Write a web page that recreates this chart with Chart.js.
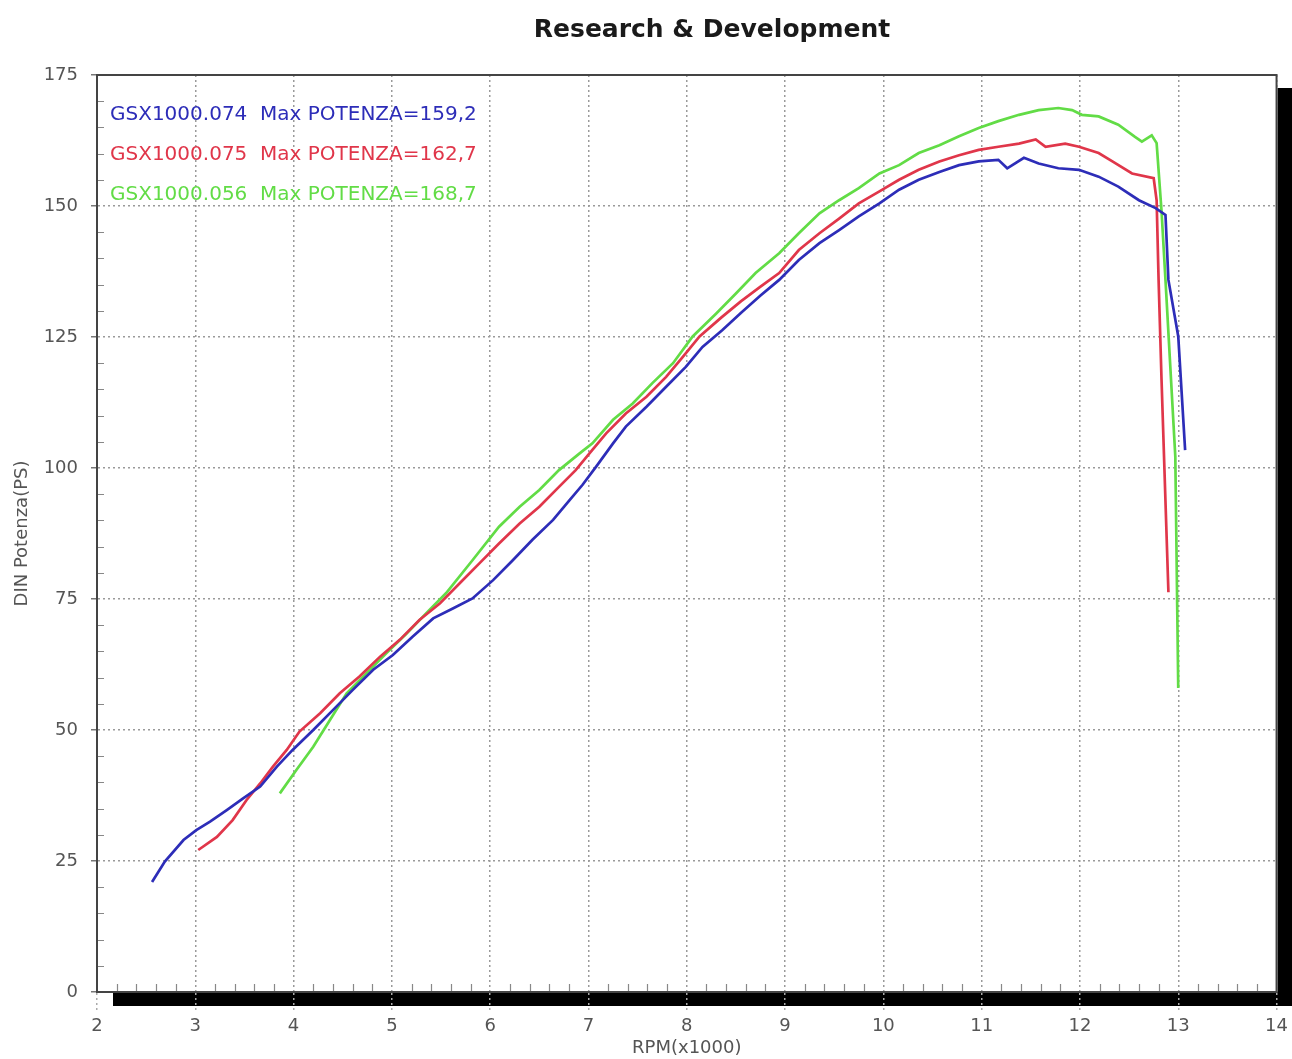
<!DOCTYPE html>
<html>
<head>
<meta charset="utf-8">
<script src="https://cdn.jsdelivr.net/npm/chart.js@4.4.0/dist/chart.umd.min.js"></script>
<style>
html,body{margin:0;padding:0;background:#fff;}
#wrap{width:1292px;height:1059px;position:relative;}
canvas{display:block;}
</style>
</head>
<body>
<div id="wrap"><canvas id="c" width="1292" height="1059"></canvas></div>
<script>
// ---- text ----
const chartTitle = 'Research & Development';
const xAxisTitle = 'RPM(x1000)';
const yAxisTitle = 'DIN Potenza(PS)';
const seriesNames = ['GSX1000.074', 'GSX1000.075', 'GSX1000.056'];
const maxPowerLabels = ['159,2', '162,7', '168,7'];
const seriesColors = ['#2d2db8', '#e0364a', '#62dc46'];

// ---- axis ranges / tick steps ----
const xMin = 2, xMax = 14, xStep = 1, xMinorStep = 0.2;
const yMin = 0, yMax = 175, yStep = 25, yMinorStep = 5;

// ---- data (RPM x1000, power PS) ----
const blueRpm = [2.56,2.69,2.88,3.01,3.15,3.32,3.49,3.66,3.83,3.99,4.20,4.40,4.60,4.81,5.01,5.21,5.42,5.62,5.82,6.03,6.23,6.43,6.64,6.81,6.94,7.08,7.25,7.38,7.59,7.79,7.99,8.16,8.36,8.55,8.75,8.94,9.14,9.35,9.55,9.75,9.96,10.16,10.36,10.57,10.77,10.97,11.17,11.26,11.43,11.58,11.78,11.99,12.19,12.39,12.60,12.77,12.87,12.90,13.00,13.07];
const bluePower = [21.0,24.9,29.0,30.9,32.5,34.7,37.0,39.2,43.0,46.2,50.0,53.8,57.6,61.5,64.3,67.8,71.3,73.2,75.1,78.6,82.4,86.3,90.1,93.9,96.8,100.3,104.7,107.9,111.7,115.5,119.3,123.1,126.3,129.6,132.9,135.9,139.7,142.9,145.4,148.0,150.5,153.1,155.0,156.5,157.8,158.5,158.8,157.2,159.2,158.1,157.2,156.9,155.6,153.7,151.1,149.6,148.3,135.9,125.1,103.4];

const redRpm = [3.03,3.22,3.38,3.52,3.66,3.79,3.93,4.06,4.27,4.47,4.67,4.88,5.08,5.28,5.49,5.69,5.89,6.09,6.30,6.50,6.70,6.87,7.01,7.18,7.38,7.59,7.79,7.96,8.13,8.35,8.55,8.75,8.94,9.14,9.35,9.55,9.75,9.96,10.16,10.36,10.57,10.77,10.97,11.17,11.38,11.55,11.65,11.85,11.99,12.19,12.33,12.53,12.75,12.78,12.80,12.83,12.90];
const redPower = [27.1,29.6,32.8,36.6,39.8,43.0,46.2,49.7,53.2,57.0,60.2,64.0,67.2,71.0,74.2,78.0,81.8,85.6,89.4,92.6,96.4,99.6,102.8,106.6,110.4,113.6,117.4,121.2,125.1,128.7,131.8,134.6,137.2,141.6,144.8,147.6,150.5,152.8,155.0,156.9,158.5,159.7,160.7,161.3,161.9,162.7,161.3,161.9,161.3,160.1,158.5,156.2,155.3,151.1,135.9,116.8,76.3];

const greenRpm = [3.86,4.03,4.20,4.37,4.54,4.74,4.94,5.15,5.35,5.55,5.82,6.09,6.30,6.50,6.70,6.91,7.04,7.25,7.45,7.65,7.86,8.06,8.30,8.50,8.70,8.94,9.14,9.35,9.55,9.75,9.96,10.16,10.36,10.57,10.77,10.97,11.17,11.38,11.58,11.78,11.92,12.02,12.19,12.39,12.56,12.63,12.73,12.78,12.83,12.87,12.97,13.00];
const greenPower = [37.9,42.4,46.8,51.9,57.0,60.8,64.6,68.4,72.3,76.1,82.4,88.8,92.6,95.8,99.6,102.8,104.7,109.2,112.3,116.2,120.0,125.1,129.5,133.3,137.2,141.0,144.8,148.6,151.1,153.4,156.2,157.8,160.1,161.6,163.3,164.9,166.2,167.4,168.3,168.7,168.3,167.4,167.1,165.5,163.2,162.3,163.5,162.0,149.0,135.9,102.2,58.0];

const toPoints = (xs, ys) => xs.map((v, i) => ({x: v, y: ys[i]}));

const frameShadow = {
  id: 'frameShadow',
  beforeDraw(chart) {
    const {ctx, chartArea: a, width, height} = chart;
    ctx.save();
    ctx.fillStyle = '#ffffff';
    ctx.fillRect(0, 0, width, height);
    ctx.fillStyle = '#000000';
    ctx.fillRect(a.left + 16, a.top + 13, width - (a.left + 16), a.bottom - a.top + 1);
    ctx.fillStyle = '#ffffff';
    ctx.fillRect(a.left, a.top, a.right - a.left + 1, a.bottom - a.top);
    ctx.restore();
  },
  beforeDatasetsDraw(chart) {
    const {ctx, chartArea: a, scales: {x, y}} = chart;
    ctx.save();
    // minor ticks
    ctx.strokeStyle = '#888';
    ctx.lineWidth = 1.2;
    ctx.beginPath();
    const nx = Math.round((xMax - xMin) / xMinorStep);
    for (let i = 1; i < nx; i++) {
      const v = xMin + i * xMinorStep;
      if (Math.abs(v - Math.round(v)) < 1e-6) continue;
      const px = Math.round(x.getPixelForValue(v)) + 0.5;
      ctx.moveTo(px, a.bottom);
      ctx.lineTo(px, a.bottom - 8);
    }
    const ny = Math.round((yMax - yMin) / yMinorStep);
    for (let i = 1; i < ny; i++) {
      const v = yMin + i * yMinorStep;
      if (v % yStep === 0) continue;
      const py = Math.round(y.getPixelForValue(v)) + 0.5;
      ctx.moveTo(a.left, py);
      ctx.lineTo(a.left + 7, py);
    }
    ctx.stroke();
    // frame
    ctx.strokeStyle = '#444';
    ctx.lineWidth = 2;
    ctx.strokeRect(a.left, a.top, a.right - a.left, a.bottom - a.top);
    ctx.restore();
  },
  afterDatasetsDraw(chart) {
    const {ctx, chartArea: a} = chart;
    ctx.save();
    ctx.font = '20px "DejaVu Sans"';
    ctx.textAlign = 'left';
    ctx.textBaseline = 'alphabetic';
    chart.data.datasets.forEach((ds, i) => {
      ctx.fillStyle = ds.borderColor;
      ctx.fillText(ds.label + '  Max POTENZA=' + maxPowerLabels[i], a.left + 13, a.top + 45 + i * 40);
    });
    ctx.restore();
  },
  afterDraw(chart) {
    const {ctx} = chart;
    ctx.save();
    ctx.font = 'bold 25px "DejaVu Sans"';
    ctx.fillStyle = '#1a1a1a';
    ctx.textAlign = 'center';
    ctx.textBaseline = 'alphabetic';
    ctx.fillText(chartTitle, 712, 37);
    ctx.restore();
  }
};

new Chart(document.getElementById('c'), {
  type: 'line',
  data: {
    datasets: [
      {label: seriesNames[0], data: toPoints(blueRpm, bluePower), borderColor: seriesColors[0]},
      {label: seriesNames[1], data: toPoints(redRpm, redPower), borderColor: seriesColors[1]},
      {label: seriesNames[2], data: toPoints(greenRpm, greenPower), borderColor: seriesColors[2]}
    ]
  },
  options: {
    responsive: false,
    animation: false,
    devicePixelRatio: 1,
    layout: {padding: {top: 75, right: 13, bottom: 0, left: 0}},
    elements: {
      line: {borderWidth: 2.7, tension: 0, fill: false},
      point: {radius: 0, hoverRadius: 0}
    },
    plugins: {legend: {display: false}, tooltip: {enabled: false}, title: {display: false}},
    scales: {
      x: {
        type: 'linear', min: xMin, max: xMax,
        afterFit(s) { s.height = 67; },
        ticks: {stepSize: xStep, color: '#555', font: {family: 'DejaVu Sans', size: 18}, padding: 4, maxRotation: 0},
        grid: {color: '#9a9a9a', lineWidth: 1.5, tickLength: 20, tickColor: '#aaa', tickBorderDash: [2, 3], tickWidth: 1.5},
        border: {display: true, color: '#444', width: 2, dash: [2, 3]},
        title: {display: true, text: xAxisTitle, color: '#555', font: {family: 'DejaVu Sans', size: 18}, padding: {top: 0, bottom: 0}}
      },
      y: {
        type: 'linear', min: yMin, max: yMax,
        afterFit(s) { s.width = 97; },
        ticks: {stepSize: yStep, color: '#555', font: {family: 'DejaVu Sans', size: 18}, padding: 13},
        grid: {color: '#9a9a9a', lineWidth: 1.5, tickLength: 6, tickColor: '#777', tickWidth: 1.5},
        border: {display: true, color: '#555', width: 2, dash: [2, 3]},
        title: {display: true, text: yAxisTitle, color: '#555', font: {family: 'DejaVu Sans', size: 18}, padding: {top: 12, bottom: 0}}
      }
    }
  },
  plugins: [frameShadow]
});
</script>
</body>
</html>
